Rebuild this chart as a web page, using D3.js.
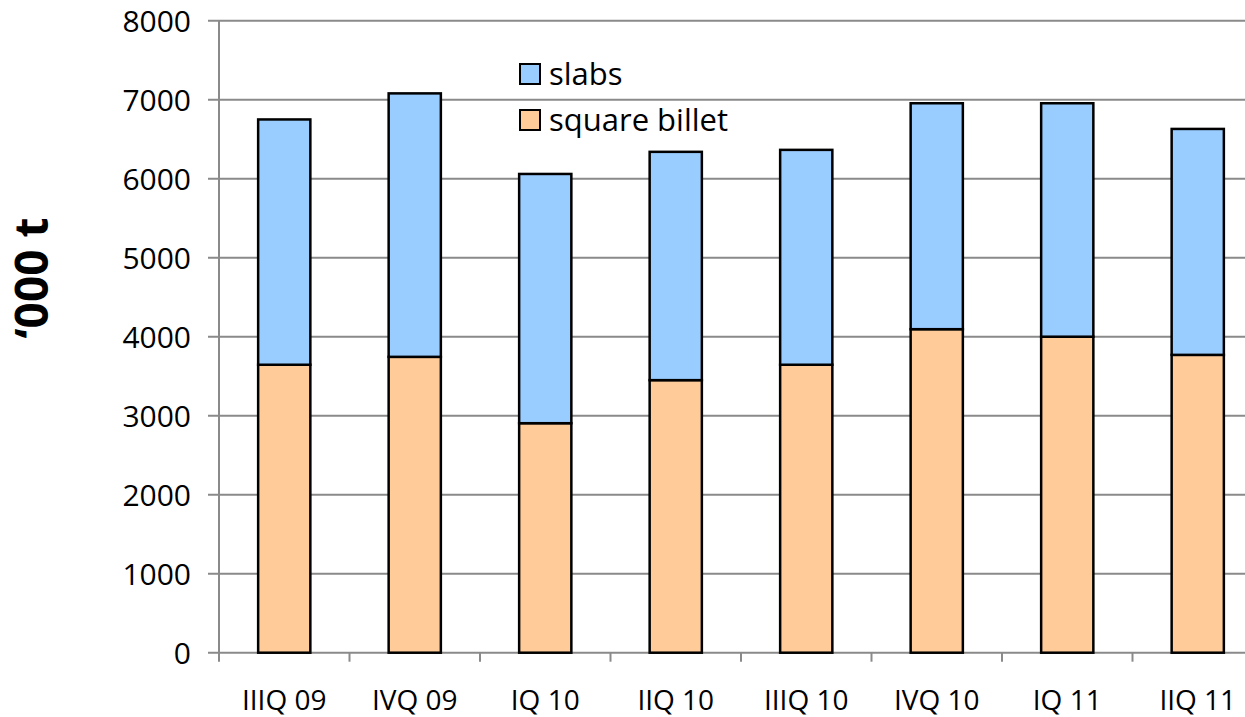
<!DOCTYPE html>
<html><head><meta charset="utf-8">
<script src="https://cdn.jsdelivr.net/npm/d3@7"></script>
<style>body{margin:0;background:#fff;}svg{display:block;}</style>
</head><body>
<svg id="c" width="1245" height="717"></svg>
<script>
const categories = ["IIIQ 09","IVQ 09","IQ 10","IIQ 10","IIIQ 10","IVQ 10","IQ 11","IIQ 11"];
const squareBillet = [3645, 3745, 2905, 3450, 3645, 4095, 4000, 3770];
const slabs = [3105, 3335, 3155, 2890, 2720, 2860, 2955, 2860];
const yTicks = [0,1000,2000,3000,4000,5000,6000,7000,8000];
const seriesNames = ["slabs","square billet"];
const colors = {"slabs":"#99CCFF","square billet":"#FFCC99"};

(function(){
const svg = d3.select("#c");
const pLeft = 219, pRight = 1263, pTop = 20.7, pBottom = 652.7;
const x = d3.scaleBand().domain(categories).range([pLeft, pRight]).paddingInner(0.6).paddingOuter(0.3);
const y = d3.scaleLinear().domain([0, 8000]).range([pBottom, pTop]);
const font = "'Open Sans', sans-serif";

// gridlines
svg.append("g").selectAll("line").data(yTicks).join("line")
  .attr("x1", pLeft - 11).attr("x2", 1245)
  .attr("y1", d => y(d)).attr("y2", d => y(d))
  .attr("stroke", "#8a8a8a").attr("stroke-width", 2);

// y axis line
svg.append("line").attr("x1", pLeft).attr("x2", pLeft).attr("y1", y(8000)).attr("y2", pBottom + 8)
  .attr("stroke", "#8a8a8a").attr("stroke-width", 2);

// x ticks at band boundaries
const step = x.step();
const xt = d3.range(categories.length + 1).map(i => pLeft + i * step);
svg.append("g").selectAll("line").data(xt).join("line")
  .attr("x1", d => d).attr("x2", d => d).attr("y1", pBottom).attr("y2", pBottom + 9)
  .attr("stroke", "#8a8a8a").attr("stroke-width", 2);

// y tick labels
svg.append("g").selectAll("text").data(yTicks).join("text")
  .attr("x", 191).attr("y", d => y(d)).attr("dy", "0.36em")
  .attr("text-anchor", "end").attr("font-family", font).attr("font-size", 30).attr("fill", "#000")
  .text(d => d);

// x labels
svg.append("g").selectAll("text").data(categories).join("text")
  .attr("x", d => x(d) + x.bandwidth() / 2).attr("y", 710)
  .attr("text-anchor", "middle").attr("font-family", font).attr("font-size", 28).attr("fill", "#000")
  .text(d => d);

// stacked bars
const rows = categories.map((c, i) => ({cat: c, "square billet": squareBillet[i], "slabs": slabs[i]}));
const stack = d3.stack().keys(["square billet", "slabs"])(rows);
svg.append("g").selectAll("g").data(stack).join("g")
  .attr("fill", d => colors[d.key])
  .selectAll("rect").data(d => d).join("rect")
  .attr("x", d => x(d.data.cat)).attr("width", x.bandwidth())
  .attr("y", d => y(d[1])).attr("height", d => y(d[0]) - y(d[1]))
  .attr("stroke", "#000").attr("stroke-width", 2.5);

// y title
svg.append("text").attr("transform", "translate(48,278) rotate(-90)")
  .attr("text-anchor", "middle").attr("font-family", font).attr("font-weight", "bold")
  .attr("font-size", 46).attr("fill", "#000").text("‘000 t");

// legend
const lg = svg.append("g").selectAll("g").data(seriesNames).join("g")
  .attr("transform", (d, i) => `translate(520, ${64 + i * 46})`);
lg.append("rect").attr("width", 20).attr("height", 20)
  .attr("fill", d => colors[d]).attr("stroke", "#000").attr("stroke-width", 2);
lg.append("text").attr("x", 29).attr("y", 21).attr("font-family", font).attr("font-size", 31)
  .attr("fill", "#000").text(d => d);
})();
</script>
</body></html>
